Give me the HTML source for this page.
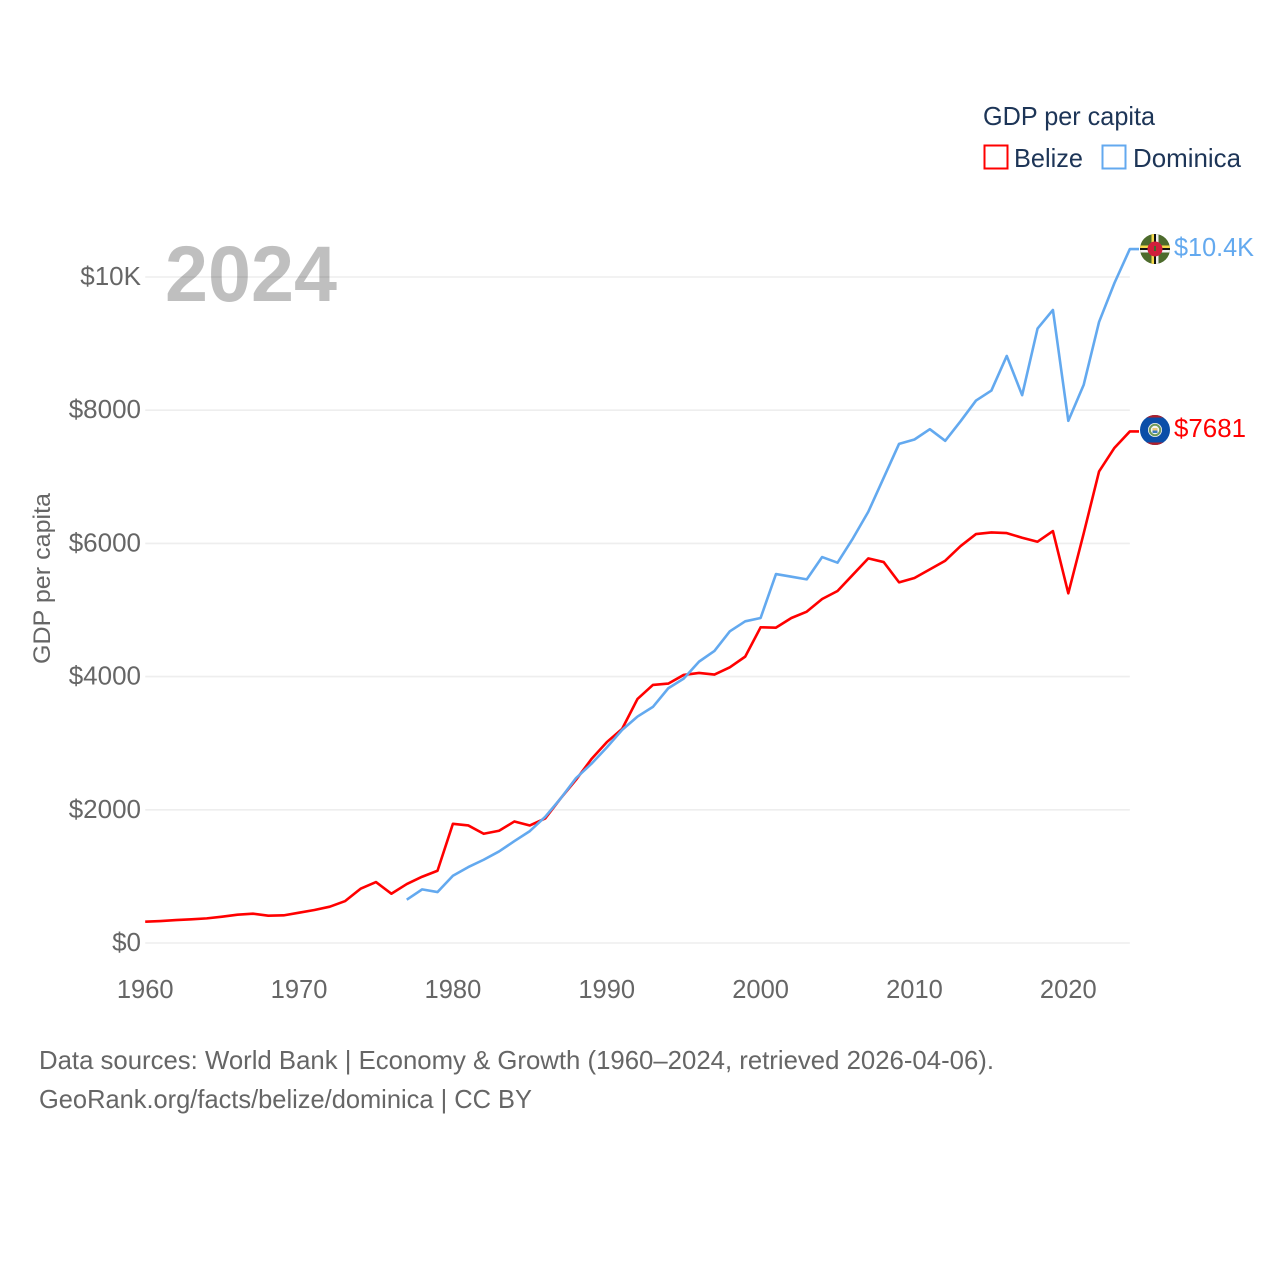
<!DOCTYPE html>
<html lang="en">
<head>
<meta charset="utf-8">
<title>GDP per capita: Belize and Dominica</title>
<style>
  html, body { margin: 0; padding: 0; background: #fff; }
  svg { display: block; font-family: "Liberation Sans", sans-serif; }
</style>
</head>
<body>
<svg id="chart" xmlns="http://www.w3.org/2000/svg" width="1280" height="1280" viewBox="0 0 1280 1280">
  <defs>
    <clipPath id="flag-clip-a"><circle cx="1155" cy="249" r="15"/></clipPath>
    <clipPath id="flag-clip-b"><circle cx="1155" cy="430" r="15"/></clipPath>
  </defs>
  <rect x="0" y="0" width="1280" height="1280" fill="#ffffff"/>
  <g id="grid"></g>
  <text x="165" y="301" font-size="79" font-weight="700" fill="#000000" fill-opacity="0.25" textLength="172" lengthAdjust="spacingAndGlyphs">2024</text>
  <g id="y-ticks"></g>
  <g id="x-ticks"></g>
  <text transform="translate(50 664) rotate(-90)" x="0" y="0" font-size="24" fill="#666666" textLength="171" lengthAdjust="spacingAndGlyphs">GDP per capita</text>
  <g id="series"></g>

  <g clip-path="url(#flag-clip-a)">
    <rect x="1140" y="234" width="30" height="30" fill="#4d6b2c"/>
    <rect x="1140" y="245.5" width="30" height="2.5" fill="#f5d94a"/>
    <rect x="1140" y="248" width="30" height="2" fill="#111111"/>
    <rect x="1140" y="250" width="30" height="2.5" fill="#f2f2f2"/>
    <rect x="1151.5" y="234" width="2.5" height="30" fill="#f5d94a"/>
    <rect x="1154" y="234" width="2" height="30" fill="#111111"/>
    <rect x="1156" y="234" width="2.5" height="30" fill="#f2f2f2"/>
    <circle cx="1155" cy="249" r="7.5" fill="#d11f3c"/>
    <rect x="1154" y="246" width="2" height="5" fill="#3f6b2c"/>
  </g>
  <g clip-path="url(#flag-clip-b)">
    <rect x="1140" y="415" width="30" height="30" fill="#0b4ea8"/>
    <rect x="1140" y="415" width="30" height="2.5" fill="#b0202c"/>
    <rect x="1140" y="442.5" width="30" height="2.5" fill="#b0202c"/>
    <circle cx="1155" cy="430" r="7" fill="#f4f4f4"/>
    <circle cx="1155" cy="430" r="5.2" fill="none" stroke="#6f9a5a" stroke-width="2"/>
    <rect x="1152.5" y="428" width="5" height="2.5" fill="#e8c878"/>
    <rect x="1152.5" y="430.5" width="5" height="2.5" fill="#3a7ac0"/>
  </g>

  <text x="1174" y="256" font-size="26" fill="#63a9ef" textLength="80" lengthAdjust="spacingAndGlyphs">$10.4K</text>
  <text x="1174" y="437" font-size="26" fill="#ff0000" textLength="72" lengthAdjust="spacingAndGlyphs">$7681</text>

  <g>
    <text x="983" y="125" font-size="26" fill="#1d3557" textLength="172" lengthAdjust="spacingAndGlyphs">GDP per capita</text>
    <rect x="984.5" y="145.5" width="23" height="23" fill="#ffffff" stroke="#ff0000" stroke-width="2"/>
    <text x="1014" y="167" font-size="26" fill="#1d3557" textLength="69" lengthAdjust="spacingAndGlyphs">Belize</text>
    <rect x="1102.5" y="145.5" width="23" height="23" fill="#ffffff" stroke="#63a9ef" stroke-width="2"/>
    <text x="1133" y="167" font-size="26" fill="#1d3557" textLength="108" lengthAdjust="spacingAndGlyphs">Dominica</text>
  </g>

  <text x="39" y="1069" font-size="26" fill="#666666" textLength="955" lengthAdjust="spacingAndGlyphs">Data sources: World Bank | Economy &amp; Growth (1960–2024, retrieved 2026-04-06).</text>
  <text x="39" y="1108" font-size="26" fill="#666666" textLength="493" lengthAdjust="spacingAndGlyphs">GeoRank.org/facts/belize/dominica | CC BY</text>
</svg>

<script>
const startYear = 1960;
const xTickYears = [1960, 1970, 1980, 1990, 2000, 2010, 2020];
const yTickValues = [0, 2000, 4000, 6000, 8000, 10000];
const yTickLabels = ["$0", "$2000", "$4000", "$6000", "$8000", "$10K"];
const belizeValues = [
  320, 330, 345, 355, 370, 395, 425, 440, 410, 415,
  455, 495, 545, 630, 815, 915, 740, 885, 995, 1085,
  1790, 1765, 1640, 1685, 1825, 1765, 1870, 2170, 2450, 2760,
  3015, 3215, 3665, 3875, 3895, 4025, 4055, 4030, 4140, 4300,
  4740, 4735, 4880, 4975, 5165, 5285, 5530, 5775, 5720, 5415,
  5480, 5610, 5740, 5960, 6140, 6165, 6155, 6085, 6025, 6185,
  5250, 6150, 7080, 7435, 7681
];
const dominicaValues = [
  null, null, null, null, null, null, null, null, null, null,
  null, null, null, null, null, null, null, 650, 805, 765,
  1010, 1140, 1250, 1375, 1530, 1680, 1895, 2170, 2475, 2690,
  2935, 3200, 3400, 3545, 3825, 3970, 4225, 4385, 4680, 4830,
  4880, 5540, 5500, 5460, 5795, 5710, 6075, 6475, 6985, 7495,
  7560, 7715, 7540, 7835, 8145, 8295, 8815, 8225, 9225, 9505,
  7840, 8380, 9325, 9910, 10420
];

const SVG_NS = "http://www.w3.org/2000/svg";
function xScale(year) { return 145.2 + (year - 1960) * 15.385; }
function yScale(value) { return 943 - value * 0.0666; }

const gridGroup = document.getElementById("grid");
const yTickGroup = document.getElementById("y-ticks");
const xTickGroup = document.getElementById("x-ticks");
const seriesGroup = document.getElementById("series");

yTickValues.forEach(function (value, i) {
  const line = document.createElementNS(SVG_NS, "line");
  line.setAttribute("x1", xScale(1960));
  line.setAttribute("x2", xScale(2024));
  line.setAttribute("y1", yScale(value));
  line.setAttribute("y2", yScale(value));
  line.setAttribute("stroke", "#eeeeee");
  line.setAttribute("stroke-width", "1.6");
  
  
  gridGroup.appendChild(line);

  const label = document.createElementNS(SVG_NS, "text");
  label.setAttribute("x", 141);
  label.setAttribute("y", yScale(value) + 8);
  label.setAttribute("text-anchor", "end");
  label.setAttribute("font-size", "26");
  label.setAttribute("fill", "#666666");
  label.textContent = yTickLabels[i];
  
  
  yTickGroup.appendChild(label);
});

xTickYears.forEach(function (year) {
  const label = document.createElementNS(SVG_NS, "text");
  label.setAttribute("x", xScale(year));
  label.setAttribute("y", 998);
  label.setAttribute("text-anchor", "middle");
  label.setAttribute("font-size", "25.5");
  label.setAttribute("fill", "#666666");
  label.textContent = String(year);
  
  
  xTickGroup.appendChild(label);
});

function seriesPoints(values) {
  const pts = [];
  let last = null;
  values.forEach(function (value, i) {
    if (value === null) { return; }
    last = yScale(value);
    pts.push(xScale(startYear + i).toFixed(2) + "," + last.toFixed(2));
  });
  pts.push("1139," + last.toFixed(2));
  return pts.join(" ");
}

const belizeLine = document.createElementNS(SVG_NS, "polyline");
belizeLine.setAttribute("points", seriesPoints(belizeValues));
belizeLine.setAttribute("fill", "none");
belizeLine.setAttribute("stroke", "#ff0000");
belizeLine.setAttribute("stroke-width", "2.6");
belizeLine.setAttribute("stroke-linejoin", "round");


seriesGroup.appendChild(belizeLine);

const dominicaLine = document.createElementNS(SVG_NS, "polyline");
dominicaLine.setAttribute("points", seriesPoints(dominicaValues));
dominicaLine.setAttribute("fill", "none");
dominicaLine.setAttribute("stroke", "#63a9ef");
dominicaLine.setAttribute("stroke-width", "2.6");
dominicaLine.setAttribute("stroke-linejoin", "round");


seriesGroup.appendChild(dominicaLine);
</script>
</body>
</html>
